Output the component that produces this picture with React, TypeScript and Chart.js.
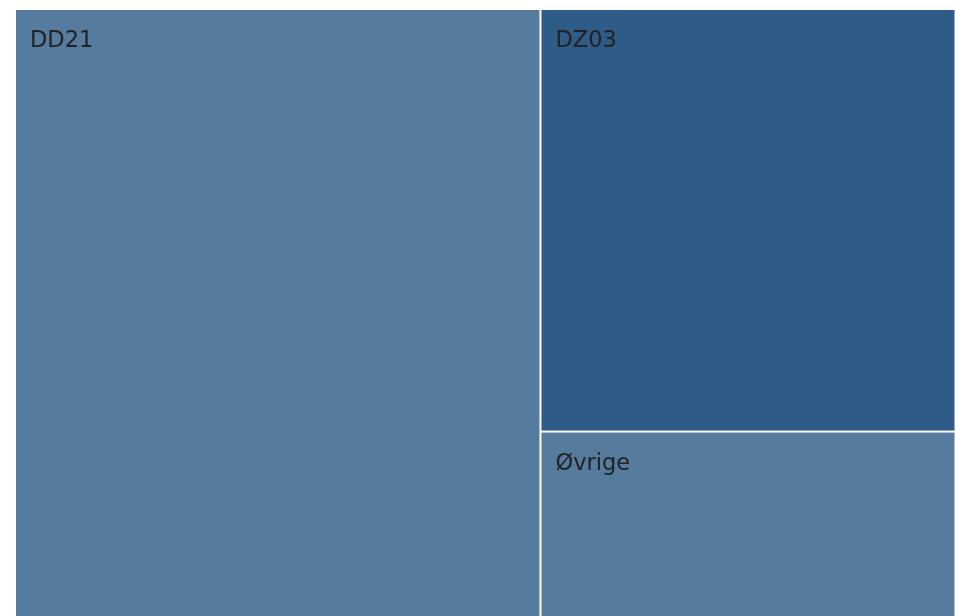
import React, { useEffect, useRef } from "react";
import { Chart, registerables } from "chart.js";

Chart.register(...registerables);

const categories = ["DD21", "DZ03", "Øvrige"];
const values = [55.9, 30.7, 13.4];
const colors = ["#557c9f", "#2e5b87", "#557c9f"];

type Rect = { i: number; x: number; y: number; w: number; h: number };

function worst(row: number[], side: number): number {
  const s = row.reduce((a, b) => a + b, 0);
  const mx = Math.max(...row);
  const mn = Math.min(...row);
  return Math.max((side * side * mx) / (s * s), (s * s) / (side * side * mn));
}

function squarify(areas: number[], x: number, y: number, w: number, h: number): Rect[] {
  const out: Rect[] = [];
  let idx = 0;
  const items = areas.map((a, i) => ({ a, i }));
  while (idx < items.length) {
    const side = Math.min(w, h);
    const row: { a: number; i: number }[] = [items[idx]];
    let k = idx + 1;
    while (k < items.length) {
      const cur = row.map((r) => r.a);
      const next = [...cur, items[k].a];
      if (worst(next, side) <= worst(cur, side)) {
        row.push(items[k]);
        k++;
      } else break;
    }
    const s = row.reduce((a, r) => a + r.a, 0);
    if (w >= h) {
      const rw = s / h;
      let yy = y;
      row.forEach((r) => {
        const rh = r.a / rw;
        out.push({ i: r.i, x, y: yy, w: rw, h: rh });
        yy += rh;
      });
      x += rw;
      w -= rw;
    } else {
      const rh = s / w;
      let xx = x;
      row.forEach((r) => {
        const rw = r.a / rh;
        out.push({ i: r.i, x: xx, y, w: rw, h: rh });
        xx += rw;
      });
      y += rh;
      h -= rh;
    }
    idx = k;
  }
  return out;
}

const treemapPlugin = {
  id: "treemapCells",
  afterDatasetsDraw(chart: any) {
    const { ctx, chartArea, scales } = chart;
    const xs = scales.x;
    const ys = scales.y;
    const ratio = (chartArea.right - chartArea.left) / (chartArea.bottom - chartArea.top);
    const total = values.reduce((a, b) => a + b, 0);
    const areas = values.map((v) => (v / total) * ratio);
    const rects = squarify(areas, 0, 0, ratio, 1);
    ctx.save();
    rects.forEach((r) => {
      const x0 = xs.getPixelForValue(r.x / ratio);
      const x1 = xs.getPixelForValue((r.x + r.w) / ratio);
      const y0 = ys.getPixelForValue(r.y);
      const y1 = ys.getPixelForValue(r.y + r.h);
      const atBottom = r.y + r.h > 0.9999;
      const atRight = r.x + r.w > ratio - 0.0001;
      ctx.fillStyle = colors[r.i];
      ctx.fillRect(x0 + 1, y0 + 1, x1 - x0 - (atRight ? 1.5 : 2), y1 - y0 - (atBottom ? 0 : 2));
      ctx.fillStyle = "#222222";
      ctx.font = '22.5px "DejaVu Sans", Verdana, sans-serif';
      ctx.textBaseline = "alphabetic";
      ctx.textAlign = "left";
      ctx.fillText(categories[r.i], x0 + 15, y0 + 38);
    });
    ctx.restore();
  },
};

export default function App() {
  const ref = useRef<HTMLCanvasElement | null>(null);
  useEffect(() => {
    if (!ref.current) return;
    const chart = new Chart(ref.current, {
      type: "scatter",
      data: { datasets: [{ label: "cells", data: [] }] },
      options: {
        animation: false,
        responsive: false,
        layout: { padding: { left: 15, top: 9, right: 0, bottom: 0 } },
        plugins: { legend: { display: false }, tooltip: { enabled: false } },
        scales: {
          x: { type: "linear", display: false, min: 0, max: 1 },
          y: { type: "linear", display: false, min: 0, max: 1, reverse: true },
        },
      },
      plugins: [treemapPlugin],
    });
    return () => chart.destroy();
  }, []);
  return (
    <div style={{ position: "absolute", left: 0, top: 0, width: 955, height: 616, background: "#fff" }}>
      <canvas ref={ref} width={955} height={616} style={{ display: "block" }} />
    </div>
  );
}
